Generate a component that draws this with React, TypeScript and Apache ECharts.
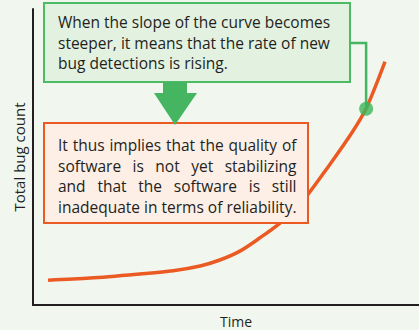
import React, { useEffect, useRef } from "react";
import * as echarts from "echarts";

const timeX = [3.9, 14.8, 27.7, 36.3, 43.3, 48.4, 53.6, 58.8, 63.9, 69.2, 76.9, 82.9, 86.3, 89.1, 91.2];
const bugCount = [8.4, 9.1, 10.5, 11.6, 13.2, 15.2, 18.2, 22.7, 27.6, 34.0, 47.5, 58.8, 66.4, 75.1, 82.2];
const markerPoint = [86.3, 66.3];
const xAxisName = "Time";
const yAxisName = "Total bug count";
const noteLines = [
  "When the slope of the curve becomes",
  "steeper, it means that the rate of new",
  "bug detections is rising.",
];
const implicationLines = [
  "It thus implies that the quality of",
  "software is not yet stabilizing",
  "and that the software is still",
  "inadequate in terms of reliability.",
];

const FONT_FAMILY = "'Open Sans', 'Noto Sans', sans-serif";
const FONT_SIZE = 15.5;
const FONT = `${FONT_SIZE}px ${FONT_FAMILY}`;

function measure(text: string): number {
  const c = document.createElement("canvas");
  const ctx = c.getContext("2d")!;
  ctx.font = FONT;
  return ctx.measureText(text).width;
}

function justifiedLines(lines: string[], x0: number, y0: number, lh: number, justify: boolean) {
  const els: any[] = [];
  const target = Math.max(...lines.map(measure));
  lines.forEach((line, i) => {
    const y = y0 + i * lh;
    const words = line.split(" ");
    if (!justify || words.length < 2) {
      els.push({ type: "text", z: 12, x: x0, y, style: { text: line, font: FONT, fill: "#231f20", textVerticalAlign: "middle" } });
      return;
    }
    const ws = words.map(measure);
    const total = ws.reduce((a, b) => a + b, 0);
    const gap = (target - total) / (words.length - 1);
    let x = x0;
    words.forEach((w, k) => {
      els.push({ type: "text", z: 12, x, y, style: { text: w, font: FONT, fill: "#231f20", textVerticalAlign: "middle" } });
      x += ws[k] + gap;
    });
  });
  return els;
}

export default function App() {
  const ref = useRef<HTMLDivElement>(null);
  useEffect(() => {
    if (!ref.current) return;
    const chart = echarts.init(ref.current, null, { renderer: "svg" });
    const curve = timeX.map((x, i) => [x, bugCount[i]]);
    const option: any = {
      animation: false,
      backgroundColor: "#f1f7ef",
      grid: { left: 33, right: 0, top: 9, bottom: 25, outerBoundsMode: "none" },
      xAxis: {
        type: "value",
        min: 0,
        max: 100,
        name: xAxisName,
        nameLocation: "middle",
        nameGap: 9,
        nameTextStyle: { fontFamily: FONT_FAMILY, fontSize: 14, color: "#231f20", padding: [0, 0, 0, 20] },
        axisLine: { show: true, lineStyle: { color: "#231f20", width: 2 } },
        axisTick: { show: false },
        axisLabel: { show: false },
        splitLine: { show: false },
      },
      yAxis: {
        type: "value",
        min: 0,
        max: 100,
        name: yAxisName,
        nameLocation: "middle",
        nameGap: 7,
        nameTextStyle: { fontFamily: FONT_FAMILY, fontSize: 15, color: "#231f20" },
        axisLine: { show: true, lineStyle: { color: "#231f20", width: 2 } },
        axisTick: { show: false },
        axisLabel: { show: false },
        splitLine: { show: false },
      },
      series: [
        {
          type: "line",
          data: curve,
          smooth: 0.3,
          symbol: "none",
          lineStyle: { color: "#ec5a24", width: 3.5 },
          z: 2,
        },
        {
          type: "scatter",
          data: [markerPoint],
          symbolSize: 14,
          itemStyle: { color: "#3db55a" },
          z: 20,
        },
      ],
    };
    chart.setOption(option);
    const dot = chart.convertToPixel({ gridIndex: 0 }, markerPoint) as number[];
    const graphic: any[] = [
      { type: "rect", z: 10, shape: { x: 44, y: 3, width: 306, height: 79 }, style: { fill: "#e3f1e0", stroke: "#4dbb63", lineWidth: 2 } },
      { type: "rect", z: 10, shape: { x: 44, y: 123, width: 264, height: 100 }, style: { fill: "#fdeee6", stroke: "#ec5a24", lineWidth: 2 } },
      {
        type: "polygon",
        z: 11,
        shape: { points: [[163, 82], [187, 82], [187, 93], [197, 93], [175, 125], [154, 93], [163, 93]] },
        style: { fill: "#45b561" },
      },
      {
        type: "polyline",
        z: 11,
        shape: { points: [[350, 43], [dot[0], 43], [dot[0], dot[1]]] },
        style: { stroke: "#45b561", lineWidth: 2.5, fill: null },
      },
      ...justifiedLines(noteLines, 58, 22, 20.5, false),
      ...justifiedLines(implicationLines, 58, 145, 20.5, true),
    ];
    chart.setOption({ graphic });
    return () => chart.dispose();
  }, []);
  return <div ref={ref} style={{ position: "fixed", left: 0, top: 0, width: 419, height: 330 }} />;
}
